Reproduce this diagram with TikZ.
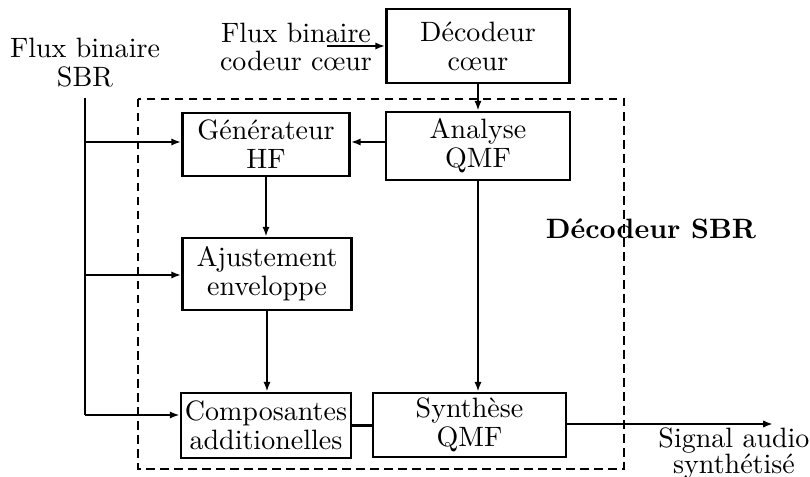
\documentclass[tikz,border=0pt]{standalone}
\usepackage{fontspec}
\usetikzlibrary{arrows.meta, positioning}

\tikzset{
  bloc/.style={draw, line width=1pt, align=center, inner sep=1pt, font=\fontsize{10}{10.3}\selectfont},
  texte/.style={align=center, inner sep=0pt, font=\fontsize{10}{10.3}\selectfont},
  lien/.style={line width=0.9pt},
  fleche/.style={line width=0.9pt, -{Latex[length=3.5pt,width=2.6pt]}},
  cadre/.style={line width=1pt, dash pattern=on 3pt off 2pt}
}

\begin{document}
\begin{tikzpicture}[x=0.357pt, y=-0.357pt]
        \useasboundingbox (0,0) rectangle (810,477);
        % Cadre du decodeur SBR
        \draw[cadre] (138,99) rectangle (624,469);
        \node[font=\bfseries] (titre) at (651,229) {Décodeur SBR};
        % Blocs
        \node[bloc, minimum width=65.3pt, minimum height=26.4pt] (dec) at (478,46) {Décodeur\\cœur};
        \node[bloc, minimum width=65.7pt, minimum height=24.3pt] (ana) at (478,146) {Analyse\\QMF};
        \node[bloc, minimum width=59.6pt, minimum height=22.5pt] (gen) at (266,144.5) {Générateur\\HF};
        \node[bloc, minimum width=60.3pt, minimum height=25.7pt] (aju) at (267,274) {Ajustement\\enveloppe};
        \node[bloc, minimum width=60.7pt, minimum height=23.2pt] (comp) at (266,425.5) {Composantes\\additionelles};
        \node[bloc, minimum width=68.9pt, minimum height=22.8pt] (syn) at (469.5,425) {Synthèse\\QMF};
        % Entrees et sortie
        \node[texte] (fluxsbr) at (85,63) {Flux binaire\\SBR};
        \node[texte] (fluxcoeur) at (296,47) {Flux binaire\\codeur cœur};
        \node[texte, anchor=north] (signal) at (734,427) {Signal audio\\[-1pt]synthétisé};
        \coordinate (c0) at (327,46);
        \coordinate (sortie) at (773,424);
        \coordinate (s0) at (85,98);
        \coordinate (s1) at (85,142);
        \coordinate (s2) at (85,275);
        \coordinate (s3) at (85,415);
        % Bus SBR
        \draw[lien, line width=1pt] (s0) -- (s3);
        \foreach \c/\cible in {s1/gen, s2/aju, s3/comp} {
          \draw[fleche, line width=1pt] (\c) -- (\c -| \cible.west);
        }
        % Liaisons
        \draw[fleche] (c0) -- (dec.west);
        \draw[fleche] (dec.south) -- (ana.north);
        \draw[fleche] (ana.west |- s1) -- (gen.east |- s1);
        \draw[fleche] (ana.south) -- (ana.south |- syn.north);
        \draw[fleche] (gen.south) -- (gen.south |- aju.north);
        \draw[fleche] (aju.south) -- (aju.south |- comp.north);
        \draw[lien] (comp.east) -- (comp.east -| syn.west);
        \draw[fleche] (syn.east |- sortie) -- (sortie);
      \end{tikzpicture}
\end{document}
